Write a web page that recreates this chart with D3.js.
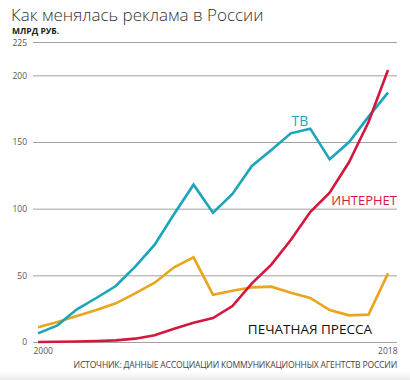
<!DOCTYPE html>
<html>
<head>
<meta charset="utf-8">
<script src="https://cdn.jsdelivr.net/npm/d3@7"></script>
<style>
  html, body { margin: 0; padding: 0; background: #fff; }
  svg { display: block; font-family: 'Open Sans', 'Noto Sans', sans-serif; }
</style>
</head>
<body>
<div id="chart"></div>
<script>
// Data (млрд руб.)
const years = d3.range(2000, 2019)
const tv = [6.5, 12.5, 24.5, 33, 42, 56.5, 73, 96, 118, 97, 111, 132, 144, 156.5, 160, 137, 150, 169, 187]
const internet = [0, 0.2, 0.4, 0.7, 1.2, 2.5, 5, 10, 14.5, 18, 27, 44, 58, 76.5, 97.5, 112, 135, 165, 204]
const press = [11, 15, 19.5, 24, 29, 36.5, 44.5, 56, 63.5, 35.5, 38.5, 41, 41.5, 37, 33, 24, 20, 20.5, 51.5]
const yTicks = [0, 50, 100, 150, 200, 225]
const xTicks = [2000, 2018]

const COLORS = {
  tv: '#1ba5ba',
  internet: '#d3173f',
  press: '#e9a51c',
  grid: '#a0a0a0',
  text: '#555',
}

const W = 410
const H = 380

const svg = d3.select('#chart').append('svg').attr('width', W).attr('height', H)

// bottom shade
const defs = svg.append('defs')
const shade = defs.append('linearGradient').attr('id', 'shade').attr('x1', '0%').attr('x2', '0%').attr('y1', '0%').attr('y2', '100%')
shade.append('stop').attr('offset', '0').attr('stop-color', '#fff')
shade.append('stop').attr('offset', '1').attr('stop-color', '#ececec')
svg.append('rect').attr('x', 0).attr('y', 371).attr('width', W).attr('height', 9).attr('fill', 'url(#shade)')

const x = d3.scaleLinear().domain([2000, 2018]).range([38, 388])
const y = d3.scaleLinear().domain([0, 225]).range([342, 42])

// Title

svg.append('text')
  .attr('x', 11)
  .attr('y', 21)
  .attr('font-size', 17)
  .attr('font-weight', 300)
  .attr('fill', '#333')
  .text('Как менялась реклама в России')

svg.append('text')
  .attr('x', 12)
  .attr('y', 33.5)
  .attr('font-size', 8.5)
  .attr('font-weight', 700)
  .attr('fill', '#222')
  .text('МЛРД РУБ.')

// Grid & y axis

const gridLeft = 33
const gridRight = 397

const yAxis = svg.append('g')
  .attr('transform', `translate(${gridLeft},0)`)
  .call(d3.axisLeft(y).tickValues(yTicks).tickSize(-(gridRight - gridLeft)).tickPadding(6))

yAxis.select('.domain').remove()
yAxis.selectAll('line').attr('stroke', COLORS.grid).attr('stroke-width', 1)
yAxis.selectAll('text')
  .attr('fill', COLORS.text)
  .attr('font-size', 8.5)
  .attr('font-family', "'Open Sans', sans-serif")
  .attr('dy', (d) => (d === 225 ? '0.4em' : '0.32em'))

// x axis labels

const xAxis = svg.append('g')
  .attr('transform', 'translate(0,342)')
  .call(d3.axisBottom(x).tickValues(xTicks).tickSize(0).tickPadding(6).tickFormat(d3.format('d')))

xAxis.select('.domain').remove()
xAxis.selectAll('text')
  .attr('fill', COLORS.text)
  .attr('font-size', 8.5)
  .attr('font-family', "'Open Sans', sans-serif")
  .attr('text-anchor', (d) => (d === 2000 ? 'start' : 'end'))
  .attr('dx', (d) => (d === 2000 ? -5 : 9))

// Lines

const line = d3.line()
  .x((d, i) => x(years[i]))
  .y((d) => y(d))

const series = [
  { key: 'press', values: press },
  { key: 'tv', values: tv },
  { key: 'internet', values: internet },
]

svg.append('g')
  .selectAll('path')
  .data(series)
  .join('path')
  .attr('fill', 'none')
  .attr('stroke', (d) => COLORS[d.key])
  .attr('stroke-width', 2.6)
  .attr('stroke-linejoin', 'miter')
  .attr('d', (d) => line(d.values))

// Series labels

svg.append('text')
  .attr('x', 300)
  .attr('y', 126)
  .attr('text-anchor', 'middle')
  .attr('font-size', 14)
  .attr('fill', COLORS.tv)
  .text('ТВ')

svg.append('text')
  .attr('x', 397)
  .attr('y', 205)
  .attr('text-anchor', 'end')
  .attr('font-size', 13)
  .attr('fill', COLORS.internet)
  .text('ИНТЕРНЕТ')

svg.append('text')
  .attr('x', 372)
  .attr('y', 334)
  .attr('text-anchor', 'end')
  .attr('font-size', 13.5)
  .attr('fill', '#111')
  .text('ПЕЧАТНАЯ ПРЕССА')

// Source

svg.append('text')
  .attr('x', 397)
  .attr('y', 368)
  .attr('text-anchor', 'end')
  .attr('font-size', 8.6)
  .attr('letter-spacing', -0.2)
  .attr('fill', '#444')
  .text('ИСТОЧНИК: ДАННЫЕ АССОЦИАЦИИ КОММУНИКАЦИОННЫХ АГЕНТСТВ РОССИИ')
</script>
</body>
</html>
